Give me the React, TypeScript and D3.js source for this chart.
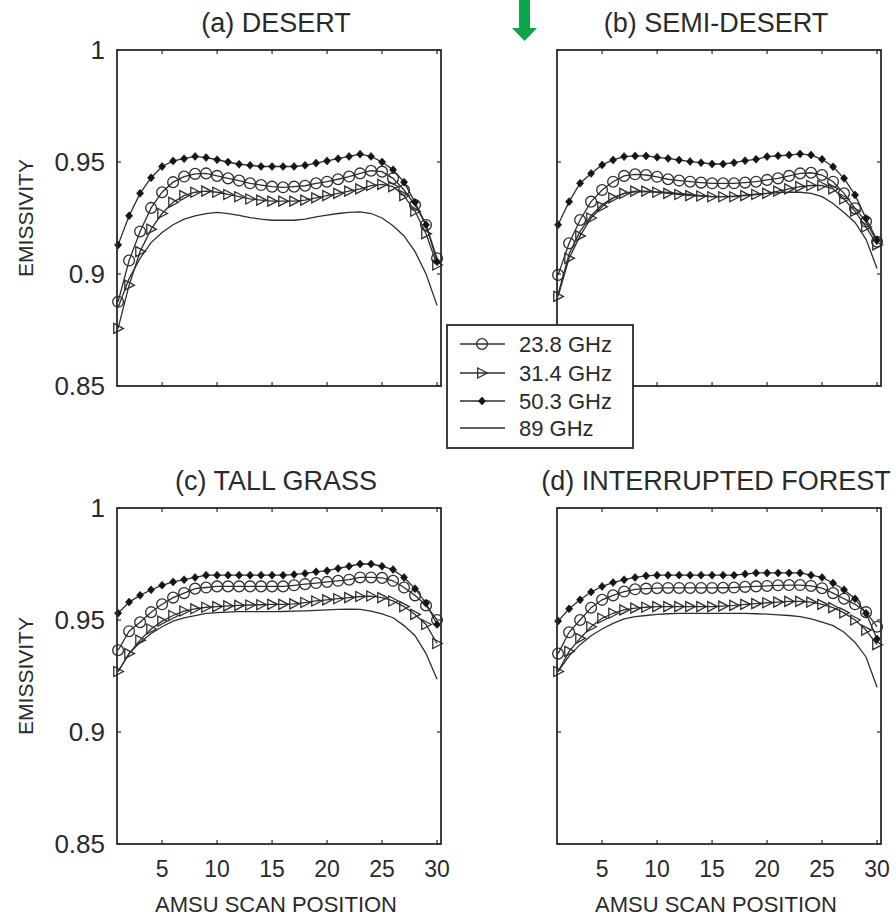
import React from 'react';
import * as d3 from 'd3';

const scanPositions = [1, 2, 3, 4, 5, 6, 7, 8, 9, 10, 11, 12, 13, 14, 15, 16, 17, 18, 19, 20, 21, 22, 23, 24, 25, 26, 27, 28, 29, 30];
const xTicks = [5, 10, 15, 20, 25, 30];
const yTicks = [0.85, 0.9, 0.95, 1];
const yTickLabels = ['0.85', '0.9', '0.95', '1'];
const panelTitles = ['(a) DESERT', '(b) SEMI-DESERT', '(c) TALL GRASS', '(d) INTERRUPTED FOREST'];
const seriesNames = ['23.8 GHz', '31.4 GHz', '50.3 GHz', '89 GHz'];

const desert238 = [0.8876, 0.906, 0.919, 0.9295, 0.9365, 0.941, 0.9435, 0.9447, 0.9449, 0.9438, 0.9427, 0.9417, 0.9405, 0.9397, 0.939, 0.9387, 0.939, 0.9394, 0.9405, 0.9412, 0.9423, 0.9435, 0.9449, 0.9461, 0.9457, 0.9427, 0.9375, 0.9308, 0.9219, 0.907];
const desert314 = [0.8757, 0.895, 0.91, 0.92, 0.927, 0.932, 0.935, 0.9365, 0.937, 0.9365, 0.9355, 0.9345, 0.9335, 0.933, 0.9325, 0.9325, 0.9325, 0.933, 0.934, 0.935, 0.936, 0.937, 0.938, 0.9395, 0.94, 0.939, 0.935, 0.928, 0.918, 0.904];
const desert503 = [0.913, 0.926, 0.936, 0.943, 0.948, 0.9505, 0.9515, 0.9525, 0.952, 0.951, 0.95, 0.949, 0.9485, 0.948, 0.948, 0.948, 0.948, 0.9485, 0.9495, 0.9505, 0.9515, 0.9525, 0.9535, 0.9525, 0.95, 0.9465, 0.941, 0.932, 0.922, 0.9055];
const desert89 = [0.885, 0.898, 0.907, 0.914, 0.9185, 0.922, 0.9245, 0.926, 0.927, 0.9275, 0.927, 0.9262, 0.9252, 0.9245, 0.924, 0.924, 0.924, 0.9245, 0.9255, 0.9263, 0.927, 0.9275, 0.9277, 0.927, 0.925, 0.9215, 0.917, 0.91, 0.9, 0.886];

const semi238 = [0.8996, 0.9137, 0.9241, 0.9323, 0.9375, 0.9412, 0.9438, 0.9445, 0.9442, 0.9434, 0.9423, 0.9417, 0.9412, 0.9408, 0.9405, 0.9405, 0.9405, 0.9408, 0.9412, 0.942, 0.9427, 0.9438, 0.9449, 0.9452, 0.9442, 0.9412, 0.936, 0.9293, 0.9234, 0.9144];
const semi314 = [0.89, 0.907, 0.917, 0.925, 0.93, 0.934, 0.936, 0.937, 0.937, 0.9365, 0.936, 0.9355, 0.935, 0.9348, 0.9345, 0.9345, 0.9345, 0.935, 0.9355, 0.936, 0.937, 0.938, 0.939, 0.9395, 0.9395, 0.938, 0.9335, 0.928, 0.921, 0.913];
const semi503 = [0.922, 0.9323, 0.9405, 0.9449, 0.9487, 0.9509, 0.9524, 0.9527, 0.9527, 0.9521, 0.9516, 0.9509, 0.9502, 0.9497, 0.9491, 0.9491, 0.9497, 0.9506, 0.9512, 0.9524, 0.9528, 0.9531, 0.9536, 0.9531, 0.9512, 0.9479, 0.9427, 0.9353, 0.9248, 0.9152];
const semi89 = [0.891, 0.909, 0.919, 0.926, 0.931, 0.934, 0.936, 0.9367, 0.9368, 0.9367, 0.9364, 0.936, 0.9355, 0.935, 0.9346, 0.9345, 0.9348, 0.9352, 0.9356, 0.936, 0.9363, 0.9365, 0.9365, 0.936, 0.9345, 0.9315, 0.9275, 0.923, 0.9155, 0.9025];

const grass238 = [0.9365, 0.945, 0.949, 0.9535, 0.957, 0.96, 0.962, 0.964, 0.9645, 0.965, 0.965, 0.965, 0.965, 0.965, 0.965, 0.965, 0.9655, 0.966, 0.9665, 0.967, 0.9675, 0.968, 0.969, 0.969, 0.9688, 0.9675, 0.9645, 0.961, 0.9565, 0.95];
const grass314 = [0.927, 0.935, 0.941, 0.946, 0.9495, 0.952, 0.954, 0.955, 0.9557, 0.956, 0.9563, 0.9565, 0.9567, 0.9568, 0.957, 0.957, 0.9572, 0.9578, 0.9585, 0.959, 0.9595, 0.96, 0.9605, 0.9607, 0.96, 0.9585, 0.956, 0.9525, 0.948, 0.9395];
const grass503 = [0.953, 0.958, 0.961, 0.9635, 0.9655, 0.967, 0.968, 0.969, 0.97, 0.97, 0.97, 0.97, 0.97, 0.97, 0.97, 0.97, 0.9703, 0.9708, 0.9715, 0.972, 0.973, 0.974, 0.975, 0.975, 0.974, 0.9725, 0.969, 0.964, 0.9575, 0.948];
const grass89 = [0.927, 0.935, 0.94, 0.944, 0.947, 0.9495, 0.951, 0.952, 0.953, 0.9533, 0.9535, 0.9537, 0.9537, 0.9537, 0.9537, 0.9538, 0.954, 0.9541, 0.9543, 0.9545, 0.9547, 0.9548, 0.9547, 0.954, 0.9527, 0.951, 0.9475, 0.943, 0.935, 0.9235];

const forest238 = [0.935, 0.9445, 0.95, 0.9555, 0.959, 0.961, 0.9627, 0.9637, 0.964, 0.9642, 0.9643, 0.9643, 0.9643, 0.9643, 0.9643, 0.9644, 0.9645, 0.9648, 0.965, 0.9652, 0.9655, 0.9656, 0.9656, 0.9652, 0.9642, 0.962, 0.9595, 0.957, 0.9535, 0.947];
const forest314 = [0.927, 0.936, 0.9418, 0.947, 0.9508, 0.953, 0.9545, 0.9553, 0.9557, 0.956, 0.956, 0.956, 0.956, 0.956, 0.956, 0.9562, 0.9565, 0.957, 0.9573, 0.9577, 0.958, 0.9583, 0.9583, 0.958, 0.957, 0.9555, 0.9532, 0.95, 0.9455, 0.939];
const forest503 = [0.9495, 0.955, 0.959, 0.9625, 0.965, 0.9667, 0.968, 0.969, 0.9697, 0.97, 0.97, 0.97, 0.97, 0.97, 0.97, 0.97, 0.97, 0.9705, 0.971, 0.971, 0.971, 0.971, 0.971, 0.97, 0.969, 0.9665, 0.9635, 0.9595, 0.953, 0.9415];
const forest89 = [0.927, 0.934, 0.939, 0.943, 0.946, 0.9485, 0.9505, 0.9515, 0.952, 0.9525, 0.9528, 0.953, 0.953, 0.953, 0.953, 0.953, 0.953, 0.953, 0.9528, 0.9526, 0.9523, 0.952, 0.9515, 0.9505, 0.949, 0.9475, 0.9445, 0.94, 0.9335, 0.92];

const panelSeries = [
  [desert238, desert314, desert503, desert89],
  [semi238, semi314, semi503, semi89],
  [grass238, grass314, grass503, grass89],
  [forest238, forest314, forest503, forest89],
];

const FONT = '"Liberation Sans", Arial, Helvetica, sans-serif';
const INK = '#2a2a2a';
const LINE = '#2e2e2e';

const colX = [117, 557];
const rowY = [50, 508];
const PW = 324;
const PH = 336;

const triPath = 'M-4.3,-5L5.3,0L-4.3,5Z';
const diaPath = 'M0,-4L3.6,0L0,4L-3.6,0Z';

function Marker({ kind, x, y }: { kind: number; x: number; y: number }) {
  if (kind === 0) return <circle cx={x} cy={y} r={5.4} fill="none" stroke={LINE} strokeWidth={1.3} />;
  if (kind === 1) return <path d={triPath} transform={`translate(${x},${y})`} fill="none" stroke={LINE} strokeWidth={1.3} />;
  if (kind === 2) return <path d={diaPath} transform={`translate(${x},${y})`} fill="#151515" stroke="#151515" strokeWidth={0.6} />;
  return null;
}

function Panel({ idx }: { idx: number }) {
  const col = idx % 2;
  const row = Math.floor(idx / 2);
  const x0 = colX[col];
  const y0 = rowY[row];
  const x = d3.scaleLinear().domain([0.9, 30.36]).range([x0, x0 + PW]);
  const y = d3.scaleLinear().domain([0.85, 1]).range([y0 + PH, y0]);
  const line = d3.line<number>().x((_, i) => x(scanPositions[i])).y((d) => y(d));
  const series = panelSeries[idx];
  const order = [3, 1, 0, 2];
  const cx = x0 + PW / 2;
  return (
    <g>
      <text x={cx - 3} y={y0 - 18} textAnchor="middle" fontSize={27} fontFamily={FONT} fill={INK}>
        {panelTitles[idx]}
      </text>
      {order.map((k) => (
        <path key={'l' + k} d={line(series[k]) || ''} fill="none" stroke={LINE} strokeWidth={1.3} />
      ))}
      {order.filter((k) => k !== 3).map((k) => (
        <g key={'m' + k}>
          {series[k].map((v, i) => (
            <Marker key={i} kind={k} x={x(scanPositions[i])} y={y(v)} />
          ))}
        </g>
      ))}
      <rect x={x0} y={y0} width={PW} height={PH} fill="none" stroke={INK} strokeWidth={1.8} />
      {xTicks.map((t) => (
        <g key={'xt' + t}>
          <line x1={x(t)} x2={x(t)} y1={y0 + PH} y2={y0 + PH - 4} stroke={INK} strokeWidth={1.2} />
          <line x1={x(t)} x2={x(t)} y1={y0} y2={y0 + 4} stroke={INK} strokeWidth={1.2} />
          {row === 1 && (
            <text x={x(t)} y={y0 + PH + 33} textAnchor="middle" fontSize={23} fontFamily={FONT} fill={INK}>
              {t}
            </text>
          )}
        </g>
      ))}
      {yTicks.map((t, i) => (
        <g key={'yt' + t}>
          <line x1={x0} x2={x0 + 4} y1={y(t)} y2={y(t)} stroke={INK} strokeWidth={1.2} />
          <line x1={x0 + PW} x2={x0 + PW - 4} y1={y(t)} y2={y(t)} stroke={INK} strokeWidth={1.2} />
          {col === 0 && (
            <text x={x0 - 12} y={y(t)} dy="0.36em" textAnchor="end" fontSize={26} fontFamily={FONT} fill={INK}>
              {yTickLabels[i]}
            </text>
          )}
        </g>
      ))}
      {col === 0 && (
        <text
          transform={`translate(${33},${y0 + PH / 2}) rotate(-90)`}
          textAnchor="middle"
          fontSize={21}
          fontFamily={FONT}
          fill={INK}
        >
          EMISSIVITY
        </text>
      )}
      {row === 1 && (
        <text x={cx - 3} y={y0 + PH + 68} textAnchor="middle" fontSize={22} fontFamily={FONT} fill={INK}>
          AMSU SCAN POSITION
        </text>
      )}
    </g>
  );
}

function Legend() {
  const lx = 447;
  const ly = 325;
  const rowsY = [344, 373, 401, 428];
  return (
    <g>
      <rect x={lx} y={ly} width={186} height={123} fill="#fff" stroke={INK} strokeWidth={1.8} />
      {seriesNames.map((name, i) => (
        <g key={name}>
          <line x1={460} x2={505} y1={rowsY[i]} y2={rowsY[i]} stroke={LINE} strokeWidth={1.3} />
          <Marker kind={i} x={482} y={rowsY[i]} />
          <text x={519} y={rowsY[i]} dy="0.36em" fontSize={22} fontFamily={FONT} fill={INK}>
            {name}
          </text>
        </g>
      ))}
    </g>
  );
}

export default function App() {
  return (
    <svg
      width={896}
      height={917}
      viewBox="0 0 896 917"
      style={{ position: 'absolute', left: 0, top: 0, background: '#fff' }}
    >
      <rect x={0} y={0} width={896} height={917} fill="#fff" />
      {[0, 1, 2, 3].map((i) => (
        <Panel key={i} idx={i} />
      ))}
      <Legend />
      <g fill="#0aa64a">
        <rect x={519} y={0} width={11} height={29} />
        <path d="M512,28L537,28L524.5,41Z" />
      </g>
    </svg>
  );
}
